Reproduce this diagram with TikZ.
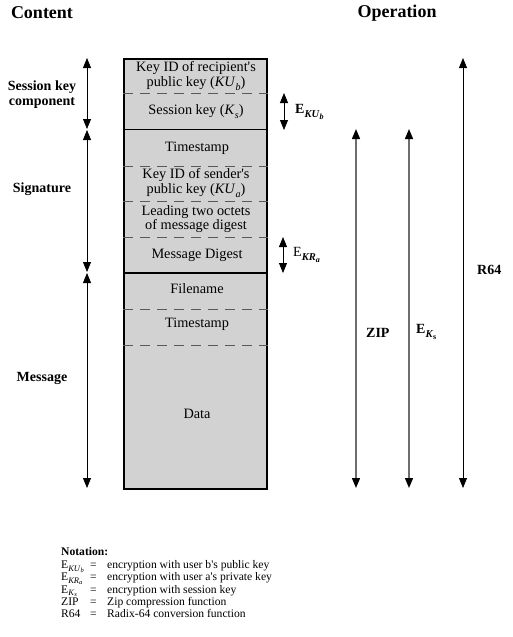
\documentclass[tikz,border=0pt]{standalone}
\usepackage{fontspec}
\setmainfont{Liberation Serif}
\usetikzlibrary{arrows.meta}
\definecolor{boxgray}{RGB}{210,210,210}
\definecolor{dashgray}{RGB}{90,90,90}
\definecolor{linegray}{RGB}{110,110,110}
\newcommand\lsub[3][0.27em]{\raisebox{-#1}{\fontsize{#2}{#2}\selectfont #3}}
\newcommand\apos{\textquotesingle}
\begin{document}
\begin{tikzpicture}[x=1pt,y=-1pt,
  head/.style={font=\fontsize{18}{20}\selectfont\bfseries, inner sep=0},
  side/.style={font=\fontsize{14}{15}\selectfont\bfseries, align=center, inner sep=0},
  cell/.style={font=\fontsize{14.3}{14.5}\selectfont, align=center, inner sep=0},
  oplabel/.style={font=\fontsize{14}{15}\selectfont, anchor=west, inner sep=0},
  notefont/.style={font=\fontsize{11.6}{11}\selectfont, anchor=west, inner sep=0, text height=7.5pt, text depth=2.5pt},
  solidsep/.style={line width=1.4pt},
  dashsep/.style={draw=dashgray, line width=1pt, dash pattern=on 10pt off 7pt},
  dbl/.style={{Triangle[length=10pt,width=8pt]}-{Triangle[length=10pt,width=8pt]}, line width=0.8pt},
  graydbl/.style={{Triangle[length=10pt,width=8pt,color=black]}-{Triangle[length=10pt,width=8pt,color=black]}, draw=linegray, line width=1.4pt}
]
\useasboundingbox (0,0) rectangle (512,637);

% headings
\node[head] (hcontent) at (42,13) {Content};
\node[head] (hop) at (397,13) {Operation};

% main box
\node[draw, fill=boxgray, line width=1.5pt, minimum width=143pt, minimum height=430pt, anchor=north west, inner sep=0] (box) at (123,58) {};
\draw[dashsep] (box.west |- 0,93) -- (box.east |- 0,93);
\draw[solidsep] (box.west |- 0,129.5) -- (box.east |- 0,129.5);
\draw[dashsep] (box.west |- 0,166) -- (box.east |- 0,166);
\draw[dashsep] (box.west |- 0,201) -- (box.east |- 0,201);
\draw[dashsep] (box.west |- 0,237) -- (box.east |- 0,237);
\draw[solidsep] (box.west |- 0,273) -- (box.east |- 0,273);
\draw[dashsep] (box.west |- 0,309) -- (box.east |- 0,309);
\draw[dashsep] (box.west |- 0,345) -- (box.east |- 0,345);

% cell texts
\node[cell] (c1) at (196,76) {Key ID of recipient\apos s\\public key (\textit{KU}\lsub{10}{\textit{b}})};
\node[cell] (c2) at (196,112) {Session key (\textit{K}\lsub{10}{\textit{s}})};
\node[cell] (c3) at (197,148) {Timestamp};
\node[cell] (c4) at (196,183) {Key ID of sender\apos s\\public key (\textit{KU}\lsub{10}{\textit{a}})};
\node[cell] (c5) at (196,219) {Leading two octets\\of message digest};
\node[cell] (c6) at (197,255) {Message Digest};
\node[cell] (c7) at (197,289) {Filename};
\node[cell] (c8) at (197,324) {Timestamp};
\node[cell] (c9) at (197,414) {Data};

% left brackets
\coordinate (l1) at (87,58);
\coordinate (l2) at (87,129);
\coordinate (l3) at (87,130);
\coordinate (l4) at (87,272);
\coordinate (l5) at (87,273);
\coordinate (l6) at (87,488);
\draw[dbl] (l1) -- (l2);
\draw[dbl] (l3) -- (l4);
\draw[dbl] (l5) -- (l6);
\node[side] (s1) at (42,95) {Session key\\component};
\node[side] (s2) at (42,189) {Signature};
\node[side] (s3) at (42,378) {Message};

% right operations
\coordinate (e1a) at (284,93);
\coordinate (e1b) at (284,130);
\draw[dbl] (e1a) -- (e1b);
\node[oplabel] (ekub) at (295,112) {\bfseries E\lsub{10.5}{\textit{KU}\lsub{8}{\textit{b}}}};

\coordinate (e2a) at (283,237);
\coordinate (e2b) at (283,273);
\draw[dbl] (e2a) -- (e2b);
\node[oplabel] (ekra) at (293,255) {E\lsub{10.5}{\bfseries\itshape KR\lsub{8}{a}}};

\coordinate (za) at (356,129);
\coordinate (zb) at (356,488);
\draw[graydbl] (za) -- (zb);
\node[oplabel] (zip) at (366,333) {\bfseries ZIP};

\coordinate (ka) at (409,129);
\coordinate (kb) at (409,488);
\draw[graydbl] (ka) -- (kb);
\node[oplabel] (eks) at (416,332) {\bfseries E\lsub{10.5}{\textit{K}\lsub[0.2em]{8}{s}}};

\coordinate (ra) at (463,58);
\coordinate (rb) at (463,488);
\draw[dbl] (ra) -- (rb);
\node[oplabel] (r64) at (477,270) {\bfseries R64};

% notation
\node[notefont] (nt) at (61,553) {\bfseries Notation:};
\node[notefont] (n1) at (61,565.5) {E\lsub{8.5}{\textit{KU}\lsub[0.15em]{6.5}{\textit{b}}}};
\node[notefont] (n2) at (61,578) {E\lsub{8.5}{\textit{KR}\lsub[0.15em]{6.5}{\textit{a}}}};
\node[notefont] (n3) at (61,590.5) {E\lsub[0.22em]{8.5}{\textit{K}\lsub[0.1em]{6.5}{\textit{s}}}};
\node[notefont] (n4) at (61,603) {ZIP};
\node[notefont] (n5) at (61,615) {R64};
\foreach \yy in {565.5,578,590.5,603,615} \node[notefont] at (90,\yy) {=};
\node[notefont] (t1) at (107,565.5) {encryption with user b\apos s public key};
\node[notefont] (t2) at (107,578) {encryption with user a\apos s private key};
\node[notefont] (t3) at (107,590.5) {encryption with session key};
\node[notefont] (t4) at (107,603) {Zip compression function};
\node[notefont] (t5) at (107,615) {Radix-64 conversion function};
\end{tikzpicture}
\end{document}
